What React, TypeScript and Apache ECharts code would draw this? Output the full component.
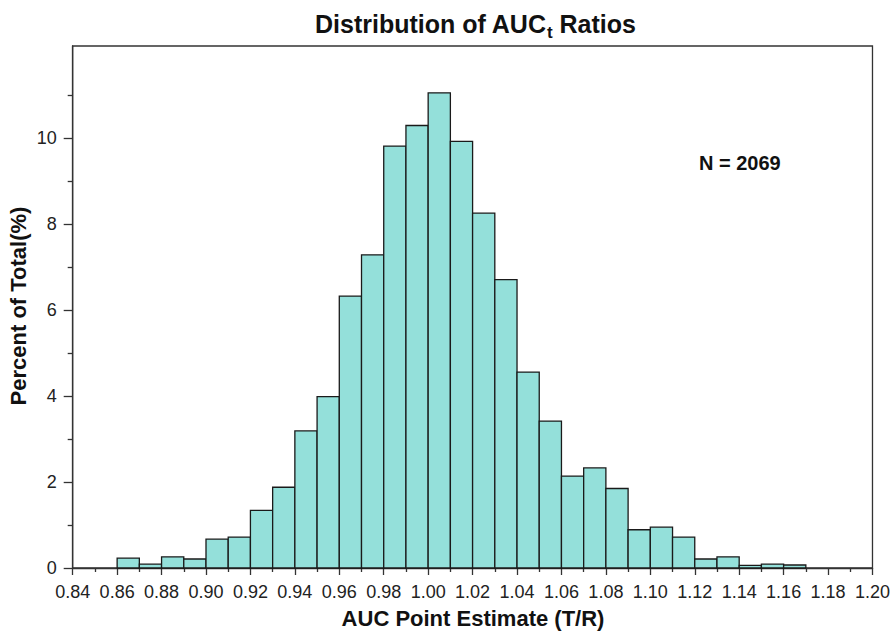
import React, { useEffect, useRef } from "react";
import * as echarts from "echarts";

// Histogram bins (lower edge of each 0.01-wide bin) and percent of total
const binStarts = [
  0.86, 0.87, 0.88, 0.89, 0.9, 0.91, 0.92, 0.93, 0.94, 0.95, 0.96, 0.97, 0.98, 0.99,
  1.0, 1.01, 1.02, 1.03, 1.04, 1.05, 1.06, 1.07, 1.08, 1.09, 1.1, 1.11, 1.12, 1.13,
  1.14, 1.15, 1.16,
];
const percents = [
  0.23, 0.09, 0.26, 0.21, 0.67, 0.72, 1.34, 1.88, 3.19, 3.99, 6.33, 7.29, 9.82, 10.3,
  11.06, 9.93, 8.26, 6.71, 4.56, 3.42, 2.14, 2.33, 1.85, 0.89, 0.95, 0.72, 0.21, 0.26,
  0.06, 0.09, 0.07,
];
const binWidth = 0.01;

const xMajorTicks = [
  0.84, 0.86, 0.88, 0.9, 0.92, 0.94, 0.96, 0.98, 1.0, 1.02, 1.04, 1.06, 1.08, 1.1,
  1.12, 1.14, 1.16, 1.18, 1.2,
];
const yMajorTicks = [0, 2, 4, 6, 8, 10];
const yMinorTicks = [1, 3, 5, 7, 9, 11];

const FONT = '"Liberation Sans", Arial, Helvetica, sans-serif';
const AXIS_COLOR = "#333";

export default function App() {
  const ref = useRef<HTMLDivElement>(null);

  useEffect(() => {
    if (!ref.current) return;
    const chart = echarts.init(ref.current, null, { renderer: "svg" });
    const data = binStarts.map((s, i) => [s, s + binWidth, percents[i]]);

    const option: any = {
      animation: false,
      backgroundColor: "#fff",
      textStyle: { fontFamily: FONT },
      grid: {
        left: 72.7,
        right: 20.3,
        top: 46,
        bottom: 63,
        show: true,
        borderColor: AXIS_COLOR,
        borderWidth: 1.3,
        backgroundColor: "transparent",
      },
      title: {
        left: 310,
        top: 6,
        text: "{a|Distribution of AUC}{s|t}{a| Ratios}",
        textStyle: {
          rich: {
            a: {
              fontFamily: FONT,
              fontSize: 25,
              fontWeight: "bold",
              color: "#111",
              lineHeight: 26,
              verticalAlign: "top",
            },
            s: {
              fontFamily: FONT,
              fontSize: 17,
              fontWeight: "bold",
              color: "#111",
              lineHeight: 17,
              verticalAlign: "top",
              padding: [13, 0, 0, 0],
            },
          },
        },
      },
      xAxis: {
        type: "value",
        min: 0.84,
        max: 1.2,
        interval: 0.02,
        axisLine: { show: true, onZero: false, lineStyle: { color: AXIS_COLOR, width: 1.3 } },
        axisTick: {
          show: true,
          length: 7,
          customValues: xMajorTicks,
          lineStyle: { color: AXIS_COLOR, width: 1.3 },
        },
        minorTick: { show: true, splitNumber: 2, length: 4, lineStyle: { color: AXIS_COLOR, width: 1.3 } },
        axisLabel: {
          customValues: xMajorTicks,
          formatter: (v: number) => v.toFixed(2),
          fontFamily: FONT,
          fontSize: 18,
          color: "#222",
          margin: 15,
        },
        splitLine: { show: false },
        minorSplitLine: { show: false },
      },
      yAxis: [
        {
          type: "value",
          min: 0,
          max: 12.15,
          interval: 2,
          axisLine: { show: true, onZero: false, lineStyle: { color: AXIS_COLOR, width: 1.3 } },
          axisTick: {
            show: true,
            length: 9,
            customValues: yMajorTicks,
            lineStyle: { color: AXIS_COLOR, width: 1.3 },
          },
          axisLabel: {
            customValues: yMajorTicks,
            fontFamily: FONT,
            fontSize: 18,
            color: "#222",
            margin: 16,
          },
          splitLine: { show: false },
        },
        {
          type: "value",
          min: 0,
          max: 12.15,
          interval: 1,
          position: "left",
          axisLine: { show: false },
          axisTick: {
            show: true,
            length: 5,
            customValues: yMinorTicks,
            lineStyle: { color: AXIS_COLOR, width: 1.3 },
          },
          axisLabel: { show: false },
          splitLine: { show: false },
        },
      ],
      series: [
        {
          type: "custom",
          xAxisIndex: 0,
          yAxisIndex: 0,
          data,
          encode: { x: [0, 1], y: 2 },
          renderItem: (params: any, api: any) => {
            const x0 = api.value(0);
            const x1 = api.value(1);
            const h = api.value(2);
            const p0 = api.coord([x0, 0]);
            const p1 = api.coord([x1, h]);
            return {
              type: "rect",
              shape: {
                x: p0[0],
                y: p1[1],
                width: p1[0] - p0[0],
                height: p0[1] - p1[1],
              },
              style: {
                fill: "#94E0DA",
                stroke: "#1a1a1a",
                lineWidth: 1.3,
              },
            };
          },
        },
      ],
      graphic: [
        {
          type: "text",
          x: 699,
          y: 163,
          style: {
            text: "N = 2069",
            fontFamily: FONT,
            fontSize: 20,
            fontWeight: "bold",
            fill: "#111",
            textAlign: "left",
            textVerticalAlign: "middle",
          },
        },
        {
          type: "text",
          x: 473,
          y: 618,
          style: {
            text: "AUC Point Estimate (T/R)",
            fontFamily: FONT,
            fontSize: 22,
            fontWeight: "bold",
            fill: "#111",
            textAlign: "center",
            textVerticalAlign: "middle",
          },
        },
        {
          type: "text",
          x: 18,
          y: 306,
          rotation: Math.PI / 2,
          style: {
            text: "Percent of Total(%)",
            fontFamily: FONT,
            fontSize: 22,
            fontWeight: "bold",
            fill: "#111",
            textAlign: "center",
            textVerticalAlign: "middle",
          },
        },
      ],
    };

    chart.setOption(option);
    return () => chart.dispose();
  }, []);

  return (
    <div
      ref={ref}
      style={{ position: "absolute", left: 0, top: 0, width: 893, height: 631 }}
    />
  );
}
